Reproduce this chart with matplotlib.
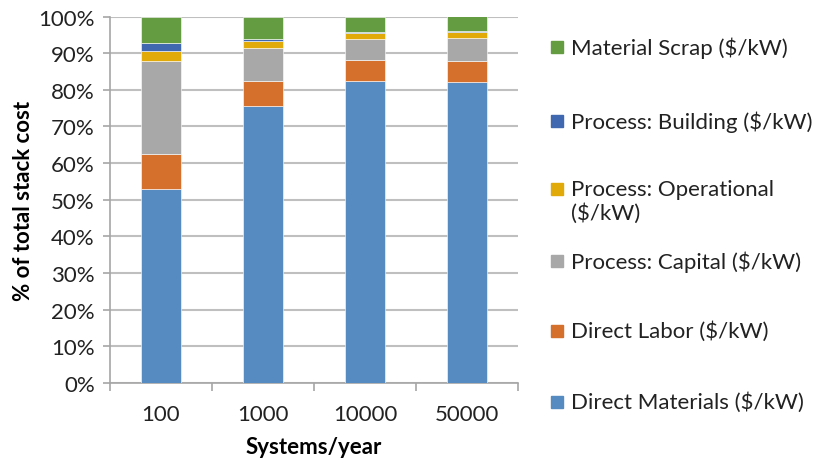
import numpy as np
import matplotlib.pyplot as plt
from matplotlib.patches import Rectangle

plt.rcParams['font.family'] = ['Lato', 'DejaVu Sans']

# share of total stack cost, percent
systems = ['100', '1000', '10000', '50000']
direct_materials = [53.0, 75.7, 82.5, 82.1]
direct_labor = [9.5, 6.8, 5.6, 5.7]
process_capital = [25.4, 8.9, 5.7, 6.2]
process_operational = [2.8, 2.0, 1.8, 1.9]
process_building = [2.1, 0.4, 0.2, 0.2]
material_scrap = [7.2, 6.2, 4.2, 3.9]

series = [direct_materials, direct_labor, process_capital,
          process_operational, process_building, material_scrap]
labels = ['Direct Materials ($/kW)', 'Direct Labor ($/kW)',
          'Process: Capital ($/kW)', 'Process: Operational\n($/kW)',
          'Process: Building ($/kW)', 'Material Scrap ($/kW)']
colors = ['#558BC0', '#D4702C', '#A8A8A8', '#E2AA08', '#3F68B1', '#649C42']

FS = 16

fig = plt.figure(figsize=(8.2, 4.64), dpi=100)
ax = fig.add_axes([110/820, 1-384/464, 408/820, (384-17.5)/464])

x = np.arange(len(systems))
bottom = np.zeros(len(systems))
for vals, c in zip(series, colors):
    ax.bar(x, vals, 0.4, bottom=bottom, color=c, edgecolor='white',
           linewidth=0.4, zorder=3)
    bottom += np.array(vals)

ax.set_xlim(-0.5, 3.5)
ax.set_ylim(0, 100)
ax.set_yticks(np.arange(0, 101, 10))
ax.set_yticklabels([f'{v}%' for v in range(0, 101, 10)])
ax.yaxis.grid(True, color='#BFBFBF', linewidth=1.5, zorder=0)

# category boundaries get the tick marks, centres get the labels
ax.set_xticks(np.arange(-0.5, 4, 1))
ax.set_xticklabels([])
ax.set_xticks(x, minor=True)
ax.set_xticklabels(systems, minor=True)
ax.tick_params(axis='x', which='major', length=6, color='#A6A6A6', width=1.2)
ax.tick_params(axis='x', which='minor', length=0, pad=15, labelsize=FS, labelcolor='#222222')
ax.tick_params(axis='y', length=5, color='#A6A6A6', width=1.2, pad=6, labelsize=FS,
               labelcolor='#222222')

for s in ['top', 'right']:
    ax.spines[s].set_visible(False)
for s in ['left', 'bottom']:
    ax.spines[s].set_color('#A6A6A6')
    ax.spines[s].set_linewidth(1.2)

ax.set_xlabel('Systems/year', fontsize=FS, fontweight='bold', labelpad=9)
ax.set_ylabel('% of total stack cost', fontsize=FS, fontweight='bold', labelpad=3)

# legend drawn by hand, top entry first
legend_y = [48, 122, 190, 262, 332, 403]
for ypix, lab, c in zip(legend_y, labels[::-1], colors[::-1]):
    fy = 1 - ypix/464
    fig.patches.append(Rectangle((551/820, fy - 6/464), 12/820, 12/464,
                                 transform=fig.transFigure, color=c))
    if '\n' in lab:
        fig.text(571/820, 1 - (ypix - 10)/464, lab, fontsize=FS, va='top',
                 ha='left', linespacing=1.2, color='#222222')
    else:
        fig.text(571/820, fy, lab, fontsize=FS, va='center', ha='left',
                 color='#222222')

fig.savefig('out.png', dpi=100)
